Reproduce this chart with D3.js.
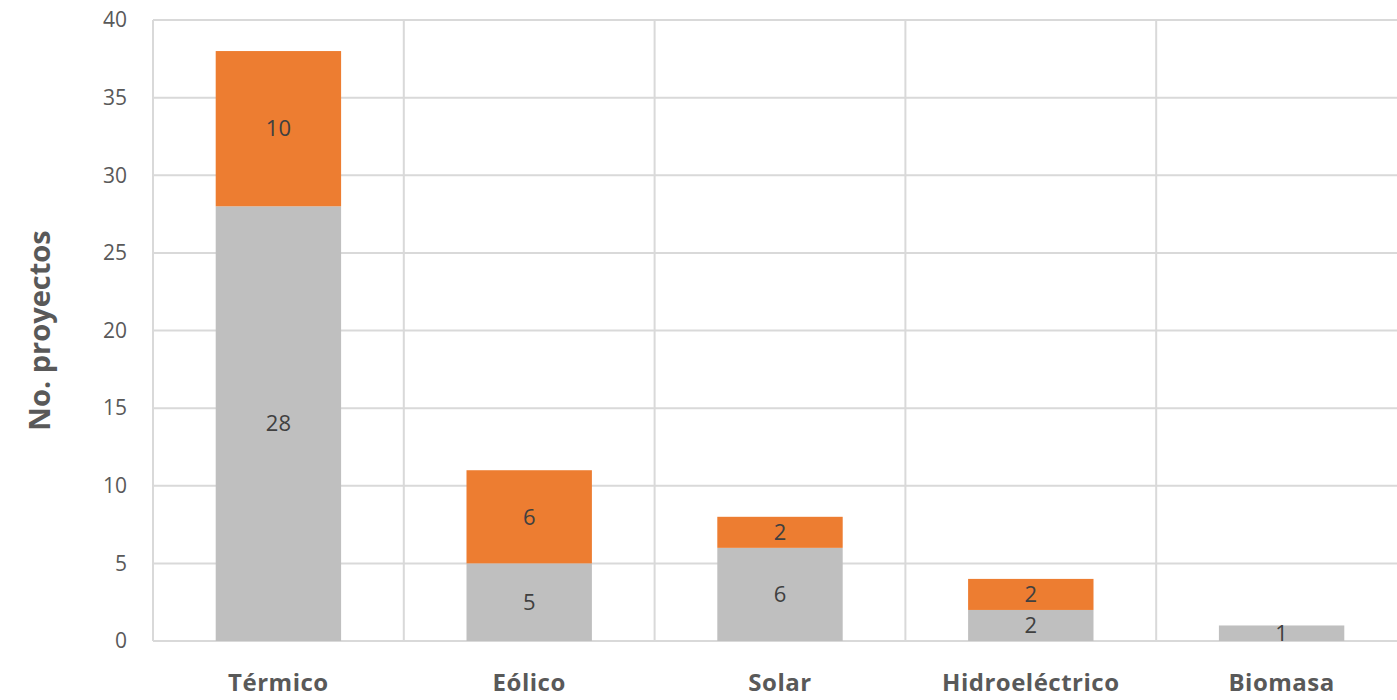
<!DOCTYPE html>
<html lang="es">
<head>
<meta charset="utf-8">
<title>Proyectos por tecnología</title>
<script src="https://d3js.org/d3.v7.min.js"></script>
<style>
  body { margin: 0; background: #fff; }
  svg { display: block; font-family: "Open Sans", Lato, sans-serif; }
</style>
</head>
<body>
<script>
var categories = ["Térmico", "Eólico", "Solar", "Hidroeléctrico", "Biomasa"];
var grayValues = [28, 5, 6, 2, 1];
var orangeValues = [10, 6, 2, 2, 0];
var yTicks = [0, 5, 10, 15, 20, 25, 30, 35, 40];

var W = 1397, H = 700;
// plot area (right edge runs past the window, like the original)
var plotLeft = 153, plotRight = 1407, plotTop = 20, plotBottom = 641;

var svg = d3.select("body").append("svg").attr("width", W).attr("height", H);

var x = d3.scaleBand().domain(categories).range([plotLeft, plotRight]).paddingInner(0).paddingOuter(0);
var y = d3.scaleLinear().domain([0, 40]).range([plotBottom, plotTop]);
var barW = x.bandwidth() * 0.5;

// horizontal gridlines
svg.append("g").selectAll("line").data(yTicks).enter().append("line")
   .attr("x1", plotLeft).attr("x2", plotRight)
   .attr("y1", function(d){ return y(d); }).attr("y2", function(d){ return y(d); })
   .attr("stroke", "#d9d9d9").attr("stroke-width", 2);

// vertical gridlines between categories
var vx = categories.map(function(c){ return x(c); }).concat([plotRight]);
svg.append("g").selectAll("line").data(vx).enter().append("line")
   .attr("x1", function(d){ return d; }).attr("x2", function(d){ return d; })
   .attr("y1", plotTop).attr("y2", plotBottom)
   .attr("stroke", "#d9d9d9").attr("stroke-width", 2);

// y tick labels
svg.append("g").selectAll("text").data(yTicks).enter().append("text")
   .attr("x", 127).attr("y", function(d){ return y(d); })
   .attr("dy", "0.35em").attr("text-anchor", "end")
   .attr("font-size", 21).attr("fill", "#595959")
   .text(function(d){ return d; });

// stacked bars
var rows = categories.map(function(c, i){ return {cat: c, gray: grayValues[i], orange: orangeValues[i]}; });
var stack = d3.stack().keys(["gray", "orange"])(rows);
var colors = {gray: "#bfbfbf", orange: "#ed7d31"};

stack.forEach(function(layer){
  var segs = layer.filter(function(d){ return d[1] > d[0]; });
  var g = svg.append("g");
  g.selectAll("rect").data(segs).enter().append("rect")
   .attr("x", function(d){ return x(d.data.cat) + (x.bandwidth() - barW) / 2; })
   .attr("width", barW)
   .attr("y", function(d){ return y(d[1]); })
   .attr("height", function(d){ return y(d[0]) - y(d[1]); })
   .attr("fill", colors[layer.key]);
  g.selectAll("text").data(segs).enter().append("text")
   .attr("x", function(d){ return x(d.data.cat) + x.bandwidth() / 2; })
   .attr("y", function(d){ return y((d[0] + d[1]) / 2); })
   .attr("dy", "0.35em").attr("text-anchor", "middle")
   .attr("font-size", 22).attr("fill", "#404040")
   .text(function(d){ return d[1] - d[0]; });
});

// category labels
svg.append("g").selectAll("text").data(categories).enter().append("text")
   .attr("x", function(d){ return x(d) + x.bandwidth() / 2; })
   .attr("y", 683).attr("dy", "0.35em").attr("text-anchor", "middle")
   .attr("font-size", 24).attr("font-weight", "bold").attr("fill", "#595959")
   .attr("letter-spacing", 0.5)
   .text(function(d){ return d; });

// y axis title
svg.append("text")
   .attr("transform", "translate(40," + ((plotTop + plotBottom) / 2) + ") rotate(-90)")
   .attr("text-anchor", "middle").attr("dy", "0.35em")
   .attr("font-size", 29).attr("font-weight", "bold").attr("fill", "#595959")
   .text("No. proyectos");
</script>
</body>
</html>
